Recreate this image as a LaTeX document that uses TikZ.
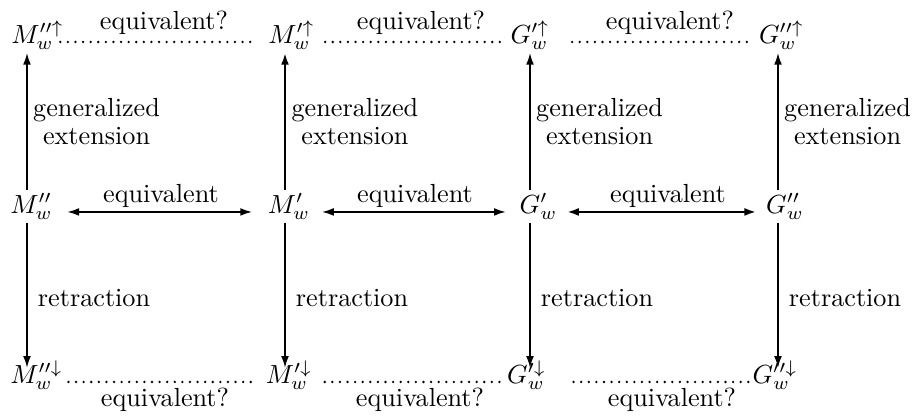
\documentclass[tikz,border=0pt]{standalone}
\usetikzlibrary{arrows.meta}
\newcommand{\pxu}{0.3818pt}
\begin{document}
\begin{tikzpicture}[x=0.3818pt,y=-0.3818pt,
  obj/.style={anchor=base, inner sep=1pt},
  tip/.tip={Latex[length=4.6pt,width=3pt]},
  arr/.style={-tip, line width=0.75pt},
  darr/.style={tip-tip, line width=0.75pt},
  thick arr/.style={line width=1.05pt},
  dotline/.style={line width=1pt, line cap=round, dash pattern=on 0pt off 2.9pt},
  lbl/.style={inner sep=0pt},
  genlbl/.style={midway, right, inner sep=2pt, align=center},
  retlbl/.style={midway, right, inner sep=3.8pt, yshift=-3pt},
]
\useasboundingbox (0,0) rectangle (914,416);
% top row
\node[obj] (t1) at (37.5,43) {$M''^{\uparrow}_w$};
\node[obj] (t2) at (291.5,43) {$M'^{\uparrow}_w$};
\node[obj] (t3) at (530,43) {$G'^{\uparrow}_w$};
\node[obj] (t4) at (781.5,43) {$G''^{\uparrow}_w$};
% middle row
\node[obj] (m1) at (31.5,213) {$M''_w$};
\node[obj] (m2) at (289,213) {$M'_w$};
\node[obj] (m3) at (538.5,213) {$G'_w$};
\node[obj] (m4) at (785,213) {$G''_w$};
% bottom row
\node[obj] (b1) at (36.5,383) {$M''^{\downarrow}_w$};
\node[obj] (b2) at (289,383) {$M'^{\downarrow}_w$};
\node[obj] (b3) at (526.5,383) {$G'^{\downarrow}_w$};
\node[obj] (b4) at (775,383) {$G''^{\downarrow}_w$};

% vertical arrows up
\draw[arr] ([xshift=-4.5*\pxu]m1.north) -- ([xshift=-10.5*\pxu]t1.south)
  node[genlbl] (g1) {generalized\\[-1.2pt]extension};
\draw[arr, thick arr] ([xshift=-4*\pxu]m2.north) -- ([xshift=-6.5*\pxu]t2.south)
  node[genlbl] (g2) {generalized\\[-1.2pt]extension};
\draw[arr] ([xshift=-8.5*\pxu]m3.north) -- ([xshift=0*\pxu]t3.south)
  node[genlbl] (g3) {generalized\\[-1.2pt]extension};
\draw[arr] ([xshift=-7*\pxu]m4.north) -- ([xshift=-3.5*\pxu]t4.south)
  node[genlbl] (g4) {generalized\\[-1.2pt]extension};

% vertical arrows down
\draw[arr, shorten >=-4pt] ([xshift=-4.5*\pxu]m1.south) -- ([xshift=-9.5*\pxu]b1.north)
  node[retlbl] (r1) {retraction};
\draw[arr, shorten >=-4pt] ([xshift=-4*\pxu]m2.south) -- ([xshift=-4*\pxu]b2.north)
  node[retlbl] (r2) {retraction};
\draw[arr, shorten >=-4pt] ([xshift=-8.5*\pxu]m3.south) -- ([xshift=3.5*\pxu]b3.north)
  node[retlbl] (r3) {retraction};
\draw[arr, shorten >=-4pt] ([xshift=-7*\pxu]m4.south) -- ([xshift=3*\pxu]b4.north)
  node[retlbl] (r4) {retraction};

% middle horizontal arrows
\draw[darr, shorten <=4.3pt, shorten >=4.7pt] ([yshift=0.4pt]m1.base east) -- ([yshift=0.4pt]m2.base west);
\draw[darr, shorten <=3.2pt, shorten >=4pt] ([yshift=0.4pt]m2.base east) -- ([yshift=0.4pt]m3.base west);
\draw[darr, thick arr, shorten <=2.4pt, shorten >=2.5pt] ([yshift=0.4pt]m3.base east) -- ([yshift=0.4pt]m4.base west);
\node[lbl] (e1) at (161,195.5) {equivalent};
\node[lbl] (e2) at (415,195.5) {equivalent};
\node[lbl] (e3) at (668,195.5) {equivalent};

% top dotted
\draw[dotline, shorten <=-2.5pt, shorten >=4.3pt] ([yshift=0.4pt]t1.base east) -- ([yshift=0.4pt]t2.base west);
\draw[dotline, shorten <=2.8pt, shorten >=0.2pt] ([yshift=0.4pt]t2.base east) -- ([yshift=0.4pt]t3.base west);
\draw[dotline, shorten <=7.5pt, shorten >=2pt] ([yshift=0.4pt]t3.base east) -- ([yshift=0.4pt]t4.base west);
\node[lbl] (q1) at (164,22.5) {equivalent?};
\node[lbl] (q2) at (421,22.5) {equivalent?};
\node[lbl] (q3) at (670,22.5) {equivalent?};

% bottom dotted
\draw[dotline, shorten <=1pt, shorten >=2.8pt] ([yshift=0.4pt]b1.base east) -- ([yshift=0.4pt]b2.base west);
\draw[dotline, shorten <=3.6pt, shorten >=-0.6pt] ([yshift=0.4pt]b2.base east) -- ([yshift=0.4pt]b3.base west);
\draw[dotline, shorten <=9.4pt, shorten >=-0.8pt] ([yshift=0.4pt]b3.base east) -- ([yshift=0.4pt]b4.base west);
\node[lbl] (p1) at (165,400) {equivalent?};
\node[lbl] (p2) at (420,400) {equivalent?};
\node[lbl] (p3) at (672,400) {equivalent?};
\end{tikzpicture}
\end{document}
